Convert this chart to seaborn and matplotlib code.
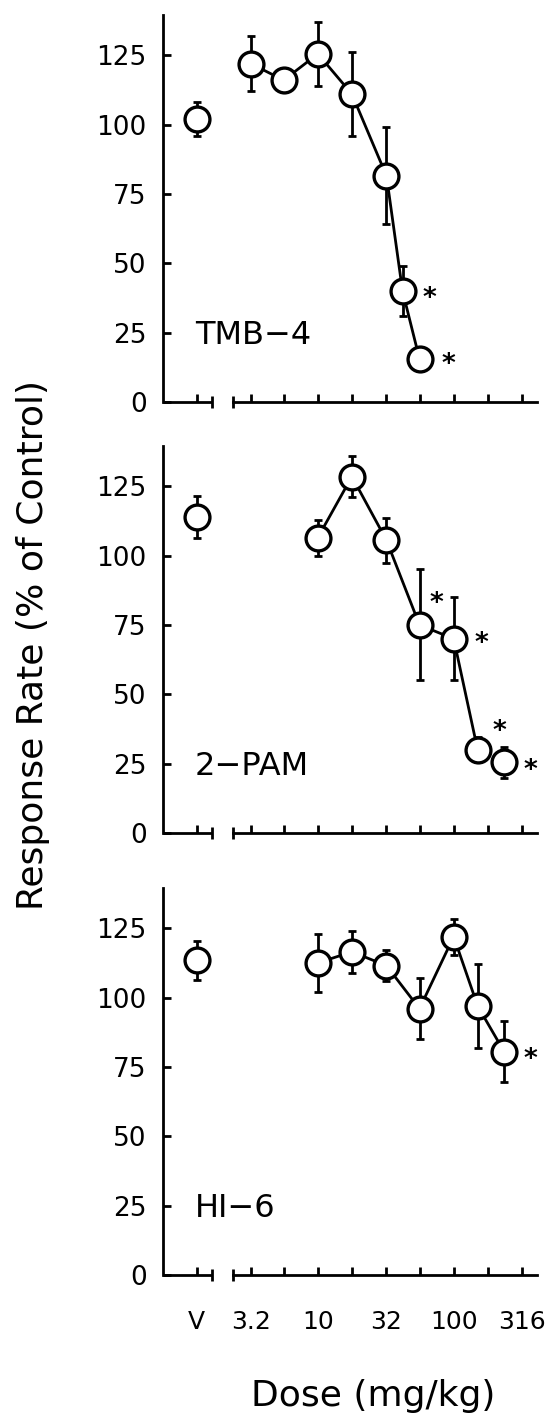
import numpy as np
import matplotlib
matplotlib.use("Agg")
import matplotlib.pyplot as plt
import seaborn as sns

# vehicle (V) points, one per drug
drug_names = ["TMB\u22124", "2\u2212PAM", "HI\u22126"]
veh_mean = [102, 114, 113.5]
veh_err = [6, 7.5, 7]

# dose-effect data (mean, SEM), doses in mg/kg
tmb_dose = [3.2, 5.6, 10, 17.8, 32, 42, 56]
tmb_mean = [122, 116, 125.5, 111, 81.5, 40, 15.5]
tmb_err = [10, 2, 11.5, 15, 17.5, 9, 1.5]
tmb_star = [5, 6]

pam_dose = [10, 17.8, 32, 56, 100, 150, 235]
pam_mean = [106.5, 128.5, 105.5, 75, 70, 30, 25.5]
pam_err = [6.5, 7.5, 8, 20, 15, 4.5, 5.5]
pam_star = [3, 4, 5, 6]

hi_dose = [10, 17.8, 32, 56, 100, 150, 235]
hi_mean = [112.5, 116.5, 111.5, 96, 122, 97, 80.5]
hi_err = [10.5, 7.5, 5.5, 11, 6.5, 15, 11]
hi_star = [6]

tick_doses = [3.2, 5.6, 10, 17.8, 32, 56, 100, 178, 316]
tick_labels = ["3.2", "", "10", "", "32", "", "100", "", "316"]
y_ticks = [0, 25, 50, 75, 100, 125]

# layout / style (not data)
V_POS = 10 ** 0.107
XMIN, XMAX = 10 ** -0.138, 10 ** 2.611
BREAK_L, BREAK_R = 10 ** 0.218, 10 ** 0.377
YMAX = 139.5
LW = 2.0
# asterisk offsets in points from the point centre
star_offsets = {
    0: [(19, 0), (21, 2)],
    1: [(12, 21), (20, 2), (16, 19), (19, 0)],
    2: [(19, 0)],
}
n_connected = [7, 6, 7]
panel_bottoms_px = [402, 833, 1275]

sns.set_style("ticks")
plt.rcParams["font.family"] = ["DejaVu Sans"]
plt.rcParams["axes.linewidth"] = LW
plt.rcParams["axes.edgecolor"] = "black"
plt.rcParams["text.color"] = "black"
plt.rcParams["xtick.color"] = "black"
plt.rcParams["ytick.color"] = "black"

panels = [
    (tmb_dose, tmb_mean, tmb_err, tmb_star),
    (pam_dose, pam_mean, pam_err, pam_star),
    (hi_dose, hi_mean, hi_err, hi_star),
]

fig = plt.figure(figsize=(5.51, 14.16), dpi=100)
W, H = 551.0, 1416.0
height_px = 387.0
MS = 320

for i, (dose, mean, err, stars) in enumerate(panels):
    ax = fig.add_axes([163.3 / W, 1 - panel_bottoms_px[i] / H,
                       (536.7 - 163.3) / W, height_px / H])
    ax.set_xscale("log")
    ax.set_facecolor("white")

    # vehicle point
    ax.errorbar([V_POS], [veh_mean[i]], yerr=[veh_err[i]], fmt="none",
                ecolor="black", elinewidth=LW, capsize=3, capthick=LW, zorder=2)
    sns.scatterplot(x=[V_POS], y=[veh_mean[i]], s=MS, color="white",
                    edgecolor="black", linewidth=2.4, ax=ax, zorder=3, legend=False)

    # dose-effect curve
    n = n_connected[i]
    sns.lineplot(x=dose[:n], y=mean[:n], color="black", linewidth=LW, ax=ax,
                 sort=False, estimator=None, zorder=1)
    ax.errorbar(dose, mean, yerr=err, fmt="none", ecolor="black",
                elinewidth=LW, capsize=3, capthick=LW, zorder=2)
    sns.scatterplot(x=dose, y=mean, s=MS, color="white", edgecolor="black",
                    linewidth=2.4, ax=ax, zorder=3, legend=False)

    for k, idx in enumerate(stars):
        dx, dy = star_offsets[i][k]
        ax.annotate("*", (dose[idx], mean[idx]), xytext=(dx, dy - 11),
                    textcoords="offset points", ha="center", va="baseline",
                    fontsize=19, fontweight="bold", color="black")

    ax.text(0.085, 23.8, drug_names[i], transform=ax.get_yaxis_transform(),
            fontsize=23, ha="left", va="center", color="black")

    ax.set_xlim(XMIN, XMAX)
    ax.set_ylim(0, YMAX)
    ax.minorticks_off()
    ax.set_xticks([V_POS] + tick_doses)
    if i == 2:
        ax.set_xticklabels(["V"] + tick_labels, fontsize=18)
    else:
        ax.set_xticklabels([""] * (len(tick_doses) + 1))
    ax.set_yticks(y_ticks)
    ax.set_yticklabels([str(v) for v in y_ticks], fontsize=19)
    ax.tick_params(axis="both", direction="in", length=6, width=LW, color="black")
    ax.tick_params(axis="y", pad=12)
    ax.tick_params(axis="x", pad=25)
    ax.set_xlabel("")
    ax.set_ylabel("")

    sns.despine(ax=ax)
    ax.spines["bottom"].set_bounds(BREAK_R, XMAX)
    # short axis piece for the vehicle point, with break marks
    ax.plot([XMIN, BREAK_L], [0, 0], color="black", lw=LW, clip_on=False,
            solid_capstyle="butt", zorder=5)
    ax.plot([BREAK_L, BREAK_R], [0, 0], ls="none", marker="|", ms=8, mew=LW,
            color="black", clip_on=False, zorder=5)

fig.text(33 / W, 1 - 645 / H, "Response Rate (% of Control)", rotation=90,
         ha="center", va="center", fontsize=26)
fig.text(373.5 / W, 1 - 1413 / H, "Dose (mg/kg)", ha="center", va="bottom",
         fontsize=26)

fig.savefig("out.png", dpi=100, facecolor="white")
